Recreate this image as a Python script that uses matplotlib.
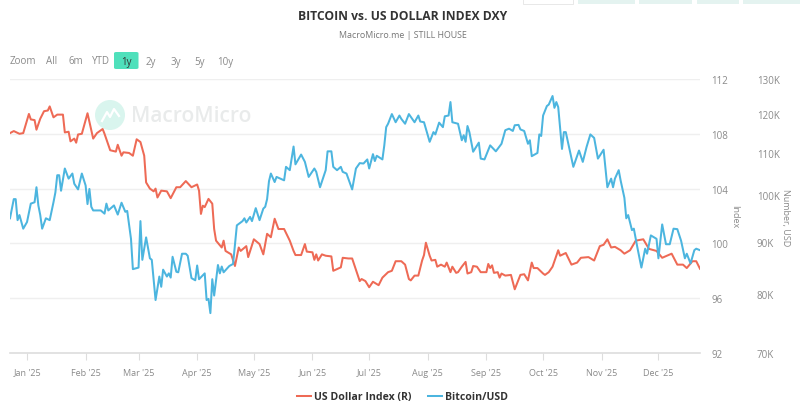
import matplotlib
matplotlib.use("Agg")
import matplotlib.pyplot as plt
import matplotlib.dates as mdates
from matplotlib.lines import Line2D
from matplotlib.patches import Circle, FancyBboxPatch, Rectangle
from matplotlib.ticker import FixedLocator, NullLocator
import numpy as np

plt.rcParams["font.family"] = ["Open Sans", "DejaVu Sans"]

# Days counted from 2025-01-01, with the level of the US Dollar Index on each
dxy_days = [-9,-7,-4,-2,1,2,4,5,7,9,11,12,14,16,19,20,22,23,25,26,27,29,32,35,37,40,41,44,47,48,
            50,51,54,56,58,60,62,63,65,67,68,69,71,74,76,79,81,84,87,90,91,92,93,94,96,98,99,100,
            103,104,105,108,110,112,113,116,117,120,123,125,127,129,131,133,136,139,141,142,145,
            147,148,151,152,153,154,156,158,161,162,166,167,170,172,176,177,179,181,183,186,188,
            191,193,195,198,200,202,203,205,207,209,210,211,213,214,216,217,219,221,222,224,225,
            227,228,230,232,233,235,236,238,240,243,244,245,246,247,249,250,251,253,256,258,261,
            263,265,267,268,270,273,274,276,278,281,282,285,288,291,293,297,300,303,305,307,309,
            311,314,316,319,322,326,329,333,336,341,344,347,349,352,354,356]
dxy_values = [108.05,108.2,108.0,108.05,109.45,109.05,109.0,108.3,109.1,109.65,109.7,110.0,109.2,
              109.4,109.4,108.1,108.15,107.45,107.65,107.35,107.95,108.0,109.5,107.65,108.05,
              108.35,108.0,106.8,106.7,107.2,106.4,106.65,106.6,106.4,107.6,107.4,106.4,104.45,
              104.0,103.8,104.0,103.35,103.85,103.8,103.3,104.1,104.1,104.55,104.1,104.3,103.85,
              102.15,102.75,102.65,103.25,102.9,101.05,100.2,99.7,100.2,99.45,99.2,98.35,99.7,
              99.45,99.8,99.0,100.3,99.95,99.2,100.7,100.45,101.8,101.05,101.05,100.2,99.45,
              99.15,99.15,99.95,99.4,99.35,98.8,99.2,98.75,99.2,99.1,99.05,98.0,98.25,98.95,98.9,
              98.9,97.25,97.4,97.25,96.8,97.2,96.95,97.5,97.9,98.0,98.7,98.7,98.45,97.4,97.3,
              97.65,97.65,98.75,99.15,100.05,99.1,98.75,98.8,98.3,98.45,98.3,98.6,97.9,98.3,
              97.85,97.9,98.3,98.65,97.8,97.9,98.35,98.3,97.9,97.9,98.5,98.2,98.4,97.85,97.9,
              97.5,97.8,97.65,97.7,96.65,97.7,97.75,97.3,98.6,98.2,98.2,97.8,97.7,97.9,98.3,99.5,
              99.1,99.3,98.45,98.6,98.95,99.0,98.75,99.8,99.9,100.3,99.7,99.75,99.5,99.25,99.5,
              100.2,100.3,99.6,99.45,98.95,99.25,98.45,98.45,98.2,98.7,98.7,98.15]

# Days from 2025-01-01 with the Bitcoin price in thousands of US dollars
btc_days = [-9,-7,-6,-5,-4,-2,0,2,4,5,6,7,8,10,12,14,15,16,17,18,20,22,24,25,27,29,31,32,33,34,35,
            39,41,42,43,46,48,50,52,53,55,56,59,60,61,63,65,66,68,70,71,72,74,75,76,77,79,80,82,
            84,85,87,89,90,91,94,95,96,97,98,99,101,102,103,104,107,109,111,114,115,116,118,119,
            121,123,125,126,127,128,129,131,132,136,137,139,141,142,145,147,149,152,153,155,158,
            159,161,162,164,166,167,169,172,174,176,178,180,181,183,184,185,188,189,190,191,193,
            195,197,198,200,202,205,207,208,210,213,215,216,218,220,221,223,224,225,228,230,231,
            232,233,234,236,239,240,242,245,248,251,253,255,257,258,260,261,263,265,266,267,270,
            271,272,273,275,276,278,279,280,281,283,284,285,289,292,294,296,298,300,302,305,307,
            309,310,311,313,314,316,317,318,320,321,323,325,327,328,330,333,334,336,338,340,342,
            344,346,348,349,351,353,354,356]
btc_values = [94.9,99.1,99.1,94.5,95.6,92.7,94.1,98.1,98.4,101.8,97.7,95.6,92.7,94.9,94.5,98.4,
              100.6,104.6,104.6,101.0,106.2,103.8,105.0,102.6,101.3,105.0,102.2,98.0,101.4,97.4,
              96.6,96.6,95.9,98.1,96.6,97.7,95.7,98.3,96.3,96.5,90.6,84.6,84.9,94.3,86.4,90.9,
              86.7,86.4,78.9,83.2,81.3,84.5,83.2,83.8,83.0,87.0,84.1,84.0,87.6,87.6,87.2,82.9,
              82.5,85.3,82.7,83.8,78.9,79.1,76.6,82.7,79.7,85.4,83.8,85.1,84.0,85.2,85.6,93.4,
              94.3,94.9,94.0,95.2,94.3,97.1,94.5,97.0,97.4,99.1,103.2,105.0,103.0,104.2,103.4,
              106.6,105.8,111.6,107.2,109.6,107.8,104.2,106.2,105.4,101.8,105.8,110.4,110.4,
              106.6,105.8,106.6,105.4,105.0,101.3,106.2,107.5,107.4,108.4,106.2,109.7,108.0,
              109.3,108.4,111.9,116.6,117.5,120.1,117.9,119.7,118.8,117.5,120.1,117.9,119.7,
              118.1,117.9,112.8,115.3,114.7,117.8,116.6,119.5,119.7,123.4,117.9,117.5,113.2,
              114.5,112.8,116.9,115.3,110.3,112.6,108.6,108.4,111.9,110.4,112.3,115.8,116.2,
              115.6,117.1,117.2,116.0,115.6,112.3,113.2,109.2,110.0,114.7,114.3,119.7,122.3,
              122.7,125.1,121.8,123.4,122.0,111.0,115.3,115.3,106.6,110.6,107.8,111.5,114.7,
              113.8,108.6,110.8,101.8,103.8,101.8,103.8,105.8,103.4,99.4,94.9,95.6,92.4,92.7,
              88.6,84.9,88.6,87.6,91.3,90.6,86.7,93.6,89.5,89.5,92.7,92.6,90.2,86.7,87.6,85.7,
              88.3,88.6,88.3]

dxy_ticks = [92, 96, 100, 104, 108, 112]
btc_ticks = [70, 80, 90, 100, 110, 120, 130]
range_buttons = ["Zoom", "All", "6m", "YTD", "1y", "2y", "3y", "5y", "10y"]
range_centers = [23, 52, 76, 101, 126, 151, 176, 200, 225]

RED = "#ee6a55"
BLUE = "#4cb5df"
GREY = "#8a8a8a"
W, H = 800, 406


def fx(x):
    return x / W


def fy(y):
    return 1 - y / H


def to_dates(days):
    return np.datetime64("2025-01-01") + np.array(days, dtype="timedelta64[D]")


fig = plt.figure(figsize=(W / 100, H / 100), dpi=100, facecolor="white")
ax = fig.add_axes([fx(10), fy(354), (700 - 10) / W, (354 - 80) / H])
ax_btc = ax.twinx()

# Watermark sits beneath the data
fig.patches.append(Circle((110, H - 116), 15, transform=None, fc="#d9f5ee", ec="none", zorder=-5))
fig.add_artist(Line2D([fx(102), fx(107), fx(110), fx(114), fx(119)],
                      [fy(122), fy(113), fy(118), fy(110), fy(117)],
                      color="white", lw=1.6, zorder=-4))
fig.text(fx(131), fy(117), "MacroMicro", color="#e9ebeb", fontsize=15,
         fontweight="semibold", va="center", ha="left", zorder=-4)

# Linear dollar index axis
start, end = to_dates([-9, 356])
ax.set_xlim(start, end)
ax.set_ylim(92, 112)
ax.yaxis.tick_right()
ax.yaxis.set_major_locator(FixedLocator(dxy_ticks))
ax.grid(axis="y", color="#efefef", lw=1)
ax.set_axisbelow(True)
ax.patch.set_visible(False)
ax_btc.patch.set_visible(False)
ax.tick_params(axis="y", length=0, pad=8, labelsize=7, labelcolor=GREY)
ax.xaxis.set_major_locator(mdates.MonthLocator())
ax.xaxis.set_major_formatter(mdates.DateFormatter("%b '%y"))
ax.tick_params(axis="x", length=5, width=0.8, color="#dddddd", pad=5.5, labelsize=6.5, labelcolor=GREY)
for side in ["top", "left", "right"]:
    ax.spines[side].set_visible(False)
ax.spines["bottom"].set_color("#dddddd")
ax.spines["bottom"].set_linewidth(1.2)

# Logarithmic Bitcoin axis
ax_btc.set_yscale("log")
ax_btc.set_ylim(70, 130)
ax_btc.yaxis.set_major_locator(FixedLocator(btc_ticks))
ax_btc.yaxis.set_minor_locator(NullLocator())
ax_btc.set_yticklabels([f"{t}K" for t in btc_ticks])
ax_btc.tick_params(axis="y", length=0, pad=41, labelsize=7, labelcolor=GREY)
for spine in ax_btc.spines.values():
    spine.set_visible(False)

line_dxy, = ax.plot(to_dates(dxy_days), dxy_values, color=RED, lw=1.45, label="US Dollar Index (R)")
line_btc, = ax_btc.plot(to_dates(btc_days), btc_values, color=BLUE, lw=1.45, label="Bitcoin/USD")

fig.text(fx(735), fy(217), "Index", rotation=270, color=GREY, fontsize=6.5, ha="center", va="center")
fig.text(fx(786), fy(218), "Number, USD", rotation=270, color=GREY, fontsize=6.5, ha="center", va="center")

# Heading
fig.text(fx(403), fy(16), "BITCOIN vs. US DOLLAR INDEX DXY", color="#333333", fontsize=8.7,
         fontweight="bold", ha="center", va="center")
fig.text(fx(403), fy(36), "MacroMicro.me | STILL HOUSE", color="#777777", fontsize=6.4,
         ha="center", va="center")

# Range selector row
fig.add_artist(FancyBboxPatch((fx(114), fy(70)), 24.5 / W, 17 / H,
                              boxstyle="round,pad=0,rounding_size=0.003",
                              transform=fig.transFigure, fc="#4fe0bb", ec="none"))
for label, cx in zip(range_buttons, range_centers):
    fig.text(fx(cx), fy(62), label, ha="center", va="center", fontsize=7,
             color="#333333" if label == "1y" else GREY)

# Toolbar fragments along the top edge
for x0, x1, fc, ec in [(523, 573, "white", "#e4e4e4"), (578, 635, "#e4f3f0", "none"),
                       (639, 692, "#e4f3f0", "none"), (697, 739, "#e4f3f0", "none"),
                       (743, 800, "#e4f3f0", "none")]:
    fig.add_artist(Rectangle((fx(x0), fy(5)), (x1 - x0) / W, 5 / H, transform=fig.transFigure,
                             fc=fc, ec=ec, lw=0.6))

fig.legend(handles=[line_dxy, line_btc], loc="center", bbox_to_anchor=(fx(402.5), fy(398)), ncol=2,
           frameon=False, prop={"size": 7.6, "weight": "bold"}, labelcolor="#333333",
           handlelength=1.35, handletextpad=0.3, columnspacing=1.5)

fig.savefig("out.png", dpi=100)
